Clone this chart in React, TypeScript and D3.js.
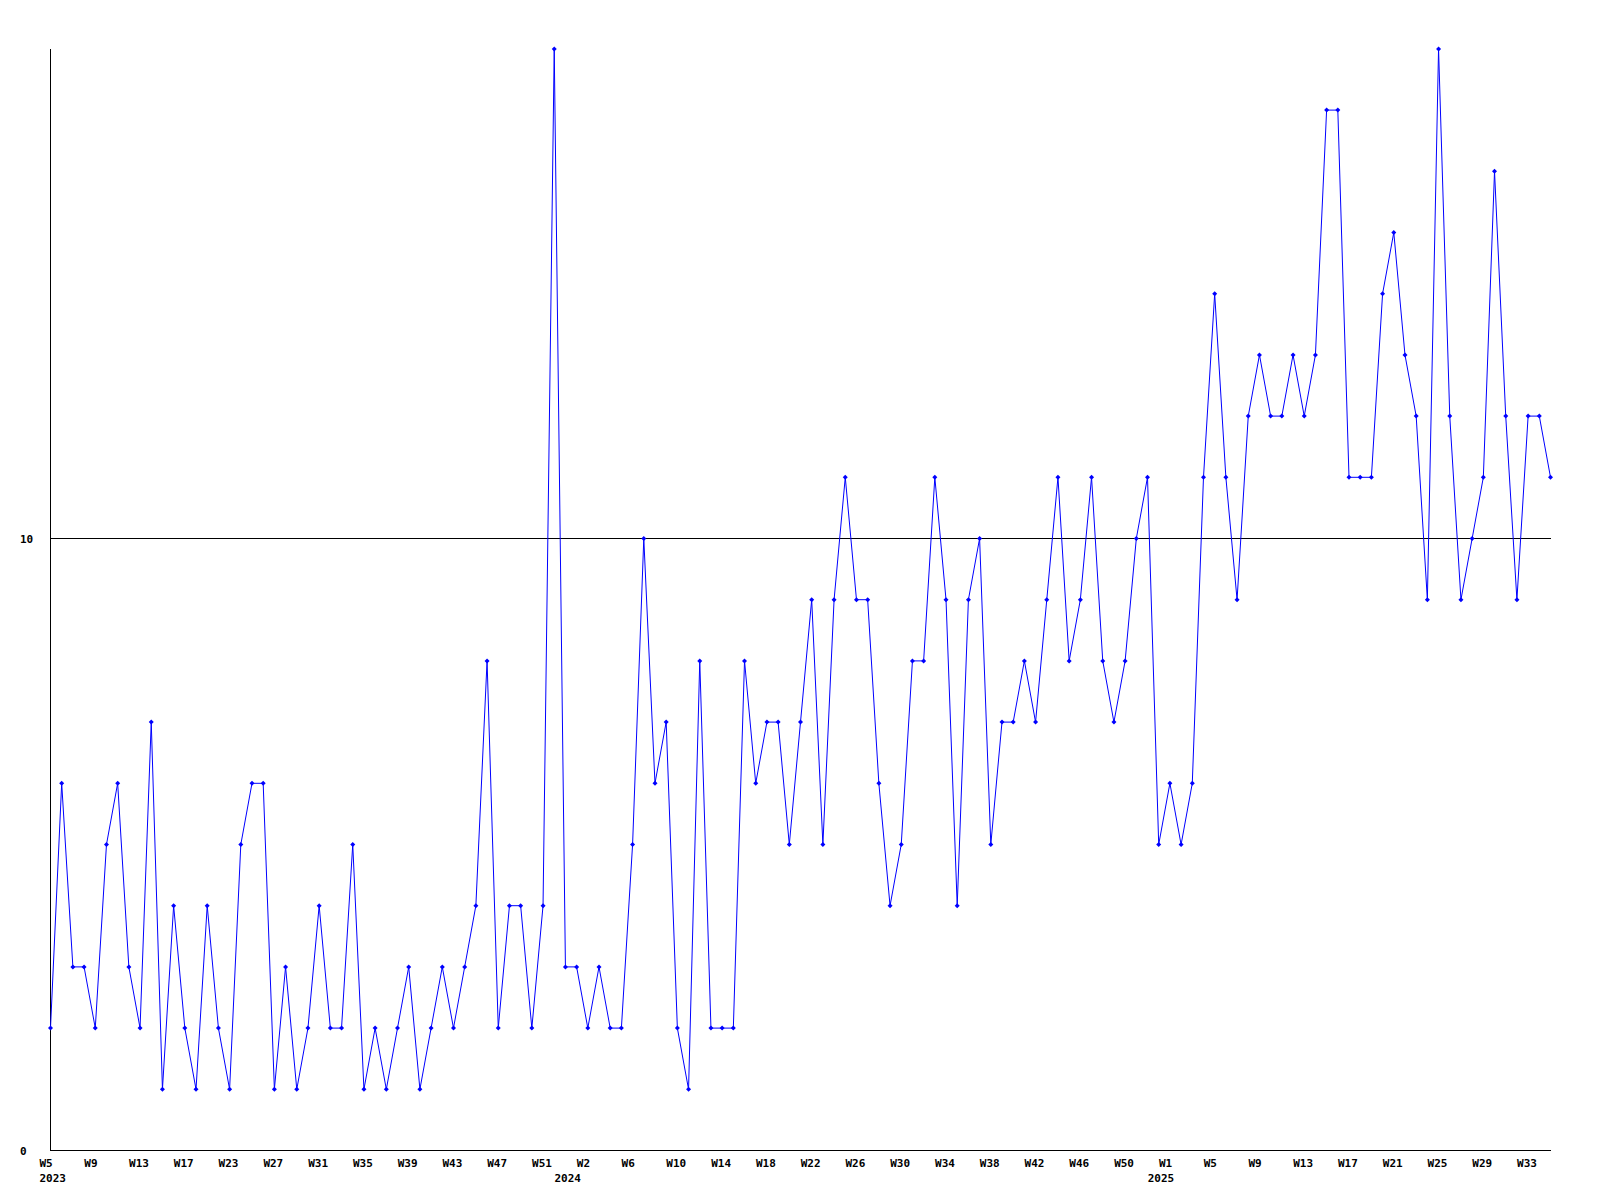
import React from "react";
import * as d3 from "d3";

// Weekly values, one per point (W5 2023 ... W33+ 2025)
const values: number[] = [
  2, 6, 3, 3, 2, 5, 6, 3, 2, 7, 1, 4, 2, 1, 4, 2, 1, 5, 6, 6, 1, 3, 1, 2, 4, 2, 2, 5, 1, 2, 1, 2, 3, 1, 2, 3, 2, 3, 4, 8, 2, 4, 4, 2,
  4, 18, 3, 3, 2, 3, 2, 2, 5, 10, 6, 7, 2, 1, 8, 2, 2, 2, 8, 6, 7, 7, 5, 7,
  9, 5, 9, 11, 9, 9, 6, 4, 5, 8, 8, 11, 9, 4, 9, 10, 5, 7, 7, 8, 7, 9, 11, 8, 9,
  11, 8, 7, 8, 10, 11, 5, 6, 5, 6, 11, 14, 11, 9, 12, 13, 12, 12, 13, 12, 13, 17, 17, 11, 11,
  11, 14, 15, 13, 12, 9, 18, 12, 9, 10, 11, 16, 12, 9, 12, 12, 11,
];

// Tick labels, one every 4 points starting at the first point
const tickLabels: string[] = [
  "W5", "W9", "W13", "W17", "W23", "W27", "W31", "W35", "W39", "W43", "W47", "W51",
  "W2", "W6", "W10", "W14", "W18", "W22", "W26", "W30", "W34", "W38", "W42", "W46", "W50",
  "W1", "W5", "W9", "W13", "W17", "W21", "W25", "W29", "W33",
];
const tickStep = 4;

// Year labels and the index of the first point of each year
const yearLabels: string[] = ["2023", "2024", "2025"];
const yearStartIndex: number[] = [0, 46, 99];

const yTicks: number[] = [0, 10];
const yMax = 18;

const FONT = "'DejaVu Sans Mono', 'Liberation Mono', monospace";

export default function App() {
  const x = d3.scaleLinear().domain([0, values.length - 1]).range([50.5, 1550.5]);
  const y = d3.scaleLinear().domain([0, yMax]).range([1150.5, 1150.5 - yMax * 61.2]);

  const line = d3
    .line<number>()
    .x((_, i) => x(i))
    .y((d) => y(d));

  const diamond = (cx: number, cy: number, r: number) =>
    `M${cx},${cy - r}L${cx + r},${cy}L${cx},${cy + r}L${cx - r},${cy}Z`;

  return (
    <svg
      width={1600}
      height={1200}
      style={{ position: "absolute", left: 0, top: 0, background: "#fff" }}
      fontFamily={FONT}
    >
      <rect x={0} y={0} width={1600} height={1200} fill="#fff" />
      {/* horizontal grid lines at y ticks */}
      {yTicks.map((t) => (
        <line
          key={"g" + t}
          x1={x(0)}
          x2={x(values.length - 1) + 0.5}
          y1={y(t)}
          y2={y(t)}
          stroke="#000"
          strokeWidth={1}
          shapeRendering="crispEdges"
        />
      ))}
      {/* y axis */}
      <line
        x1={x(0)}
        x2={x(0)}
        y1={y(yMax)}
        y2={y(0)}
        stroke="#000"
        strokeWidth={1}
        shapeRendering="crispEdges"
      />
      {/* y tick labels */}
      {yTicks.map((t) => (
        <text
          key={"yl" + t}
          x={20}
          y={y(t) + 4}
          fontSize={11}
          fontWeight="bold"
          fill="#000"
          textAnchor="start"
        >
          {t}
        </text>
      ))}
      {/* x tick labels */}
      {tickLabels.map((lab, k) => (
        <text
          key={"xl" + k}
          x={x(k * tickStep) - 11}
          y={1167}
          fontSize={11}
          fontWeight="bold"
          fill="#000"
          textAnchor="start"
        >
          {lab}
        </text>
      ))}
      {/* year labels */}
      {yearLabels.map((lab, k) => (
        <text
          key={"yr" + k}
          x={x(yearStartIndex[k]) - 11}
          y={1182}
          fontSize={11}
          fontWeight="bold"
          fill="#000"
          textAnchor="start"
        >
          {lab}
        </text>
      ))}
      {/* data line */}
      <path
        d={line(values) || ""}
        fill="none"
        stroke="#0000ff"
        strokeWidth={1}
      />
      {/* markers */}
      {values.map((v, i) => (
        <path key={"m" + i} d={diamond(x(i), y(v), 2.5)} fill="#0000ff" />
      ))}
    </svg>
  );
}
